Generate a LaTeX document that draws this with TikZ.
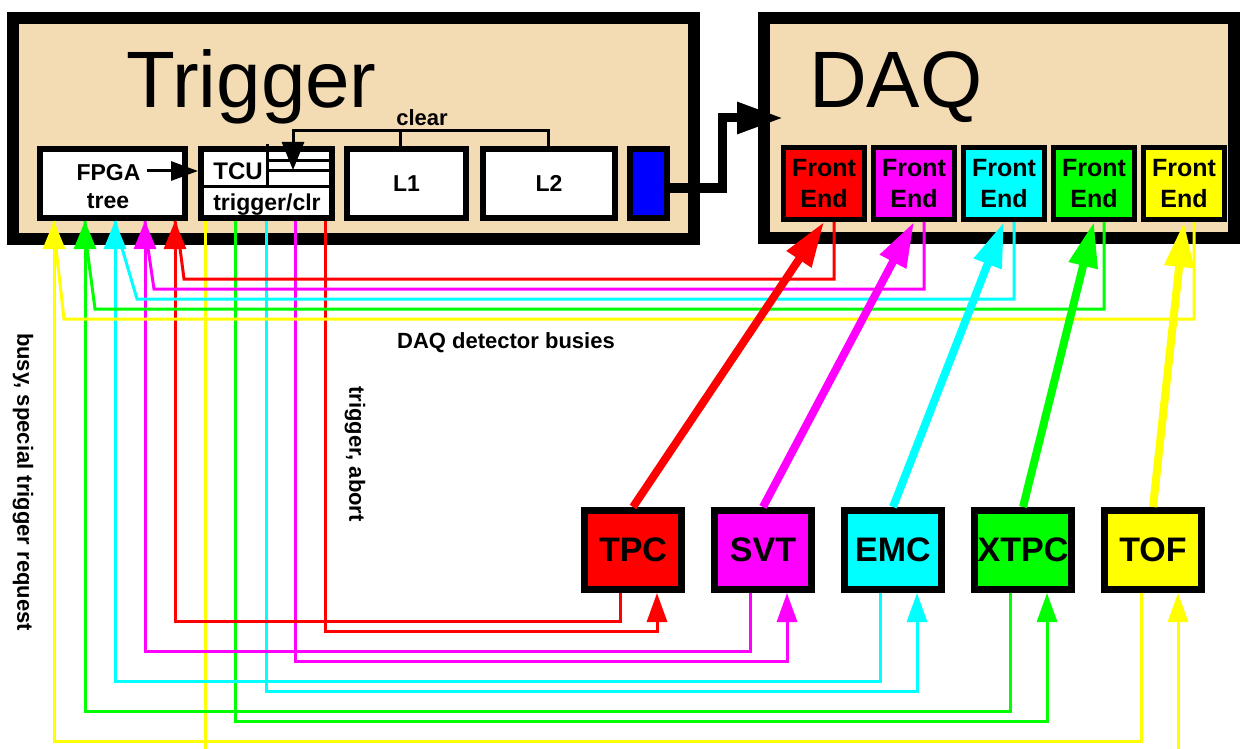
\documentclass[tikz,border=0pt]{standalone}
\usepackage{fontspec}
\setmainfont{Liberation Sans}
\usetikzlibrary{arrows.meta,calc}
\definecolor{tanbg}{RGB}{243,219,179}
\definecolor{cR}{RGB}{255,0,0}
\definecolor{cM}{RGB}{255,0,255}
\definecolor{cC}{RGB}{0,255,255}
\definecolor{cG}{RGB}{0,255,0}
\definecolor{cY}{RGB}{255,255,0}
\definecolor{cB}{RGB}{0,0,255}
\begin{document}
\begin{tikzpicture}[x=1pt,y=-1pt,
  bigbox/.style={draw=black, line width=12pt, fill=tanbg, inner sep=0pt, rectangle},
  inbox/.style={draw=black, line width=6pt, fill=white, inner sep=0pt, minimum height=69pt,
     font=\fontsize{23}{27}\selectfont\bfseries},
  febox/.style={draw=black, line width=5pt, inner sep=0pt, minimum width=81pt, minimum height=72pt,
     align=center, font=\fontsize{25}{31}\selectfont\bfseries},
  detbox/.style={draw=black, line width=7pt, inner sep=0pt, minimum width=97pt, minimum height=79pt,
     font=\fontsize{34}{40}\selectfont\bfseries},
  lbl/.style={inner sep=0pt, font=\fontsize{23}{27}\selectfont\bfseries},
  title/.style={inner sep=0pt, anchor=base west, font=\fontsize{80}{96}\selectfont},
  thinl/.style={line width=3pt},
  tipF/.style={-{Triangle[length=28pt,width=22pt]}},
  tipD/.style={-{Triangle[length=29pt,width=20pt]}},
  fatarr/.style={line width=8pt, -{Triangle[length=45pt,width=28pt]}},
]
\useasboundingbox (0,0) rectangle (1248,749);

% big boxes
\node[bigbox, minimum width=681pt, minimum height=221pt] (trig) at (353.5,128.5) {};
\node[bigbox, minimum width=470pt, minimum height=220pt] (daq) at (999,128) {};
\node[title] (trigtitle) at (126,108) {Trigger};
\node[title] (daqtitle) at (809,108) {DAQ};

% trigger inner boxes
\node[inbox, minimum width=145pt] (fpga) at (112.5,183.5) {};
\node[inbox, minimum width=131pt] (tcu) at (266.5,183.5) {};
\node[inbox, minimum width=119pt] (l1) at (406.5,183.5) {L1};
\node[inbox, minimum width=132pt] (l2) at (549,183.5) {L2};
\node[inbox, minimum width=37pt, fill=cB] (blue) at (648.5,183.5) {};

\node[lbl, anchor=base] (fpgat) at (108.5,181) {FPGA};
\node[lbl, anchor=base] (treet) at (108,208) {tree};
\node[lbl, anchor=base, font=\fontsize{24}{28}\selectfont\bfseries] (tcut) at (238,179) {TCU};
\node[lbl, anchor=base] (trclr) at (267,210) {trigger/clr};

% TCU internal structure
\draw[thinl] ($(tcu.north west)+(69,-2)$) -- ($(tcu.north west)+(69,40)$);
\draw[thinl] ($(tcu.west)+(3,2.5)$) -- ($(tcu.east)+(-3,2.5)$);
\draw[thinl] ($(tcu.north west)+(69,15)$) -- ($(tcu.north east)+(-3,15)$);
\draw[thinl] ($(tcu.north west)+(69,25)$) -- ($(tcu.north east)+(-3,25)$);

% clear bracket
\draw[thinl, line join=miter] ($(l2.north)+(-1,0)$) |- ($(tcu.north west)+(95,-15)$)
   [tipF] -- ($(tcu.north west)+(95,24)$);
\draw[thinl] ($(l1.north)+(-6.5,0)$) -- ++(0,-15);
\node[lbl, anchor=base, font=\fontsize{22}{26}\selectfont\bfseries] (clr) at (422,126) {clear};

% FPGA -> TCU
\draw[thinl, -{Triangle[length=27pt,width=19pt]}] ($(fpga.west)+(110,-12.5)$) -- ($(tcu.west)+(0,-12.5)$);

% blue -> DAQ
\draw[line width=9pt, line join=miter, -{Triangle[length=46pt,width=30pt]}]
   ($(blue.east)+(0,4.5)$) -- ++(52,0) |- ($(daq.west)+(25,-10)$);

% front ends
\node[febox, fill=cR] (fe1) at (824,183.5) {Front\\End};
\node[febox, fill=cM] (fe2) at (914,183.5) {Front\\End};
\node[febox, fill=cC] (fe3) at (1004,183.5) {Front\\End};
\node[febox, fill=cG] (fe4) at (1094,183.5) {Front\\End};
\node[febox, fill=cY] (fe5) at (1184,183.5) {Front\\End};

% detectors
\node[detbox, fill=cR] (tpc) at (633,550) {TPC};
\node[detbox, fill=cM] (svt) at (763,550) {SVT};
\node[detbox, fill=cC] (emc) at (893,550) {EMC};
\node[detbox, fill=cG] (xtpc) at (1023,550) {XTPC};
\node[detbox, fill=cY] (tof) at (1153,550) {TOF};

% trigger, abort lines from TCU to detectors
\draw[thinl, cR, tipD] ($(tcu.south west)+(127,0)$) -- ++(0,410) -| ($(tpc.south)+(24,0)$);
\draw[thinl, cM, tipD] ($(tcu.south west)+(97,0)$) -- ++(0,440) -| ($(svt.south)+(24,0)$);
\draw[thinl, cC, tipD] ($(tcu.south west)+(68,0)$) -- ++(0,470) -| ($(emc.south)+(24,0)$);
\draw[thinl, cG, tipD] ($(tcu.south west)+(37,0)$) -- ++(0,500) -| ($(xtpc.south)+(24,0)$);
\draw[thinl, cY] ($(tcu.south west)+(7,0)$) -- ++(0,528);
\draw[thinl, cY, tipD] ($(tof.south)+(25,156)$) -- ($(tof.south)+(25,0)$);

% busy / special trigger request lines from detectors to FPGA tree
\draw[thinl, cR, tipF] ($(tpc.south)+(-13,0)$) -- ++(0,28) -| ($(fpga.south west)+(138,0)$);
\draw[thinl, cM, tipF] ($(svt.south)+(-13,0)$) -- ++(0,58) -| ($(fpga.south west)+(108,0)$);
\draw[thinl, cC, tipF] ($(emc.south)+(-13,0)$) -- ++(0,88) -| ($(fpga.south west)+(78,0)$);
\draw[thinl, cG, tipF] ($(xtpc.south)+(-13,0)$) -- ++(0,118) -| ($(fpga.south west)+(48,0)$);
\draw[thinl, cY, tipF] ($(tof.south)+(-12,0)$) -- ++(0,148) -| ($(fpga.south west)+(17,0)$);

% DAQ detector busies from front ends
\draw[thinl, cR] ($(fe1.south)+(10,0)$) |- (184,279) -- (180,248) -- ($(fpga.south west)+(138,0)$);
\draw[thinl, cM] ($(fe2.south)+(10,0)$) |- (154,289) -- (148,248) -- ($(fpga.south west)+(108,0)$);
\draw[thinl, cC] ($(fe3.south)+(10,0)$) |- (137,299) -- (122,248) -- ($(fpga.south west)+(78,0)$);
\draw[thinl, cG] ($(fe4.south)+(10,0)$) |- (95,309) -- (87,248) -- ($(fpga.south west)+(48,0)$);
\draw[thinl, cY] ($(fe5.south)+(10,0)$) |- (64,319) -- (56,248) -- ($(fpga.south west)+(17,0)$);

% data paths detectors -> front ends
\draw[fatarr, cR] (tpc.north) -- (fe1.south);
\draw[fatarr, cM] (svt.north) -- (fe2.south);
\draw[fatarr, cC] (emc.north) -- (fe3.south);
\draw[fatarr, cG] (xtpc.north) -- (fe4.south);
\draw[fatarr, cY] (tof.north) -- (fe5.south);

% labels
\node[lbl, anchor=base, font=\fontsize{22}{26}\selectfont\bfseries] (busies) at (506,348) {DAQ detector busies};
\node[lbl, rotate=-90, font=\fontsize{22}{26}\selectfont\bfseries] (busyreq) at (23,482) {busy, special trigger request};
\node[lbl, rotate=-90, font=\fontsize{22}{26}\selectfont\bfseries] (trab) at (355,454) {trigger, abort};
\end{tikzpicture}
\end{document}
